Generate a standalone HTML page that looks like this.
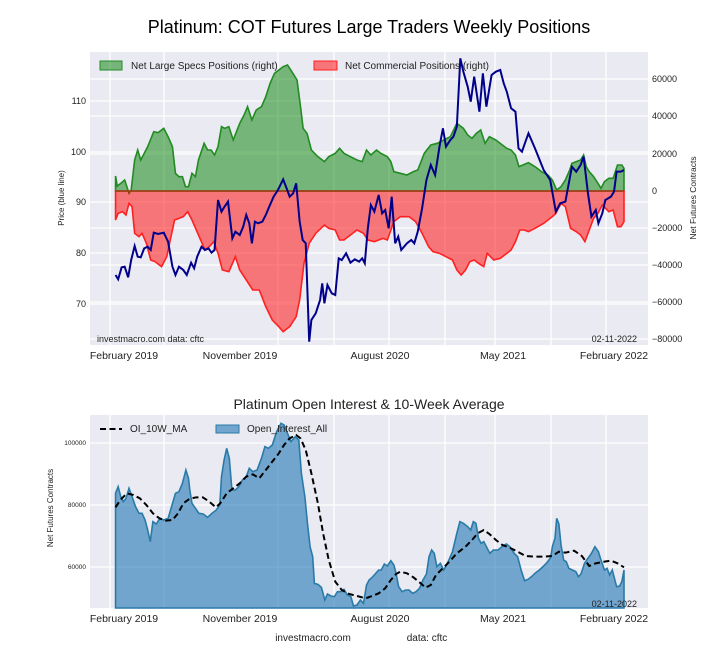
<!DOCTYPE html>
<html><head><meta charset="utf-8"><style>body{margin:0;background:#fff}svg{display:block;font-family:"Liberation Sans",sans-serif}</style></head><body>
<svg width="720" height="660" viewBox="0 0 720 660">
<rect width="720" height="660" fill="#fff"/>
<text x="369" y="33" font-size="18" text-anchor="middle" fill="#000">Platinum: COT Futures Large Traders Weekly Positions</text>
<!-- top plot -->
<rect x="90" y="52" width="558" height="293" fill="#eaeaf2"/>
<g stroke="#fff" stroke-width="1.3">
<line x1="90" x2="648" y1="101" y2="101"/><line x1="90" x2="648" y1="152" y2="152"/><line x1="90" x2="648" y1="202" y2="202"/><line x1="90" x2="648" y1="253" y2="253"/><line x1="90" x2="648" y1="304" y2="304"/>
<line x1="90" x2="648" y1="79" y2="79"/><line x1="90" x2="648" y1="116" y2="116"/><line x1="90" x2="648" y1="154" y2="154"/><line x1="90" x2="648" y1="228" y2="228"/><line x1="90" x2="648" y1="265" y2="265"/><line x1="90" x2="648" y1="302" y2="302"/><line x1="90" x2="648" y1="339" y2="339"/>
<line x1="110" x2="110" y1="52" y2="345"/><line x1="164" x2="164" y1="52" y2="345"/><line x1="278" x2="278" y1="52" y2="345"/><line x1="334" x2="334" y1="52" y2="345"/><line x1="389" x2="389" y1="52" y2="345"/><line x1="445" x2="445" y1="52" y2="345"/><line x1="495" x2="495" y1="52" y2="345"/><line x1="551" x2="551" y1="52" y2="345"/><line x1="606" x2="606" y1="52" y2="345"/>
</g>
<g transform="translate(40,40) scale(0.4342,0.33333)">
<path fill="#008000" fill-opacity="0.5" stroke="#228b22" stroke-width="1.6" vector-effect="non-scaling-stroke" d="M174,453 L174,408 L178,438 L186,430 L195,420 L200,440 L205,460 L210,450 L218,360 L225,330 L232,360 L240,340 L248,320 L262,275 L272,278 L285,265 L295,290 L305,320 L312,400 L320,410 L328,410 L335,440 L342,440 L350,400 L358,410 L365,360 L378,310 L386,330 L394,330 L402,345 L410,320 L418,260 L425,265 L435,260 L445,300 L460,250 L470,225 L478,200 L488,240 L498,210 L510,200 L520,170 L530,130 L540,100 L550,90 L560,80 L570,75 L580,95 L592,120 L600,200 L606,265 L615,280 L625,330 L640,350 L655,365 L665,350 L680,340 L690,325 L700,340 L715,350 L730,360 L742,365 L752,330 L762,345 L775,330 L785,340 L800,350 L808,365 L815,395 L830,400 L845,405 L860,395 L870,390 L885,340 L900,315 L915,310 L930,300 L945,290 L960,250 L975,265 L985,285 L995,295 L1005,280 L1015,270 L1025,310 L1035,290 L1050,300 L1060,310 L1075,325 L1085,330 L1095,345 L1103,380 L1112,375 L1125,368 L1140,380 L1155,395 L1170,405 L1180,420 L1190,450 L1200,440 L1210,420 L1220,390 L1225,370 L1235,365 L1245,360 L1252,345 L1258,380 L1265,395 L1275,410 L1285,430 L1292,445 L1300,425 L1310,415 L1320,415 L1330,375 L1340,375 L1345,385 L1345,453 Z"/>
<path fill="#ff0000" fill-opacity="0.5" stroke="#ff2020" stroke-width="1.6" vector-effect="non-scaling-stroke" d="M174,453 L174,540 L180,520 L190,515 L198,525 L205,490 L212,500 L218,580 L228,590 L235,580 L245,610 L255,660 L265,665 L280,680 L292,650 L300,600 L310,540 L320,535 L330,530 L340,515 L350,540 L360,570 L370,600 L380,630 L390,620 L400,605 L410,640 L420,690 L435,695 L450,650 L460,690 L475,720 L490,750 L505,750 L520,800 L535,840 L550,860 L560,875 L575,860 L590,830 L598,780 L608,670 L620,610 L635,580 L655,555 L665,565 L680,570 L690,600 L700,600 L715,585 L730,570 L745,580 L755,600 L770,605 L790,595 L800,600 L815,545 L830,530 L850,530 L865,545 L880,580 L895,620 L905,635 L920,640 L935,650 L950,660 L960,690 L970,705 L980,690 L990,665 L1000,660 L1010,670 L1022,680 L1030,640 L1045,660 L1060,655 L1075,640 L1085,630 L1095,605 L1105,570 L1115,570 L1125,575 L1140,565 L1160,550 L1180,530 L1188,520 L1200,490 L1210,500 L1222,565 L1235,575 L1245,585 L1255,605 L1265,570 L1275,535 L1285,520 L1295,495 L1310,515 L1320,510 L1330,560 L1338,560 L1345,545 L1345,453 Z"/>
<line x1="174" x2="1345" y1="453" y2="453" stroke="#8b4513" stroke-width="1.2" vector-effect="non-scaling-stroke"/>
<path fill="none" stroke="#00008b" stroke-width="2" vector-effect="non-scaling-stroke" d="M174,705 L180,718 L188,682 L195,680 L203,712 L210,660 L218,618 L225,650 L232,652 L240,625 L248,620 L255,630 L262,578 L272,582 L285,578 L295,605 L305,680 L312,705 L320,680 L330,690 L338,705 L348,668 L355,685 L362,650 L372,620 L380,630 L388,625 L395,638 L402,630 L410,480 L418,515 L425,500 L433,485 L443,595 L450,575 L460,585 L468,560 L475,525 L482,550 L488,610 L495,545 L502,550 L512,545 L520,525 L528,500 L538,470 L548,450 L560,418 L568,445 L575,470 L583,460 L590,430 L598,545 L605,600 L612,610 L620,905 L625,840 L635,820 L645,780 L650,730 L655,790 L662,735 L672,760 L680,765 L688,655 L695,660 L705,640 L715,668 L725,658 L735,665 L742,655 L748,670 L755,565 L762,495 L770,515 L780,465 L788,520 L795,510 L803,565 L810,470 L818,610 L825,590 L832,630 L845,610 L855,600 L862,610 L870,575 L880,505 L890,420 L900,375 L910,405 L920,320 L928,265 L935,320 L945,300 L952,290 L960,260 L968,55 L975,95 L985,140 L992,185 L1000,110 L1008,180 L1012,215 L1020,100 L1028,200 L1040,105 L1050,95 L1060,90 L1068,130 L1075,155 L1085,205 L1095,215 L1102,325 L1110,335 L1118,305 L1125,280 L1140,325 L1160,390 L1175,420 L1188,515 L1198,490 L1210,485 L1215,450 L1225,380 L1235,395 L1245,375 L1252,350 L1262,460 L1270,530 L1280,510 L1286,550 L1295,520 L1302,480 L1315,470 L1322,455 L1328,395 L1338,395 L1345,390"/>
</g>
<rect x="100" y="61" width="22" height="9" fill="#008000" fill-opacity="0.5" stroke="#228b22"/>
<text x="131" y="69" font-size="10" fill="#222">Net Large Specs Positions (right)</text>
<rect x="314" y="61" width="23" height="9" fill="#ff0000" fill-opacity="0.5" stroke="#ff2020"/>
<text x="345" y="69" font-size="10" fill="#222">Net Commercial Positions (right)</text>
<text x="97" y="342" font-size="9" fill="#222">investmacro.com   data: cftc</text>
<text x="637" y="342" font-size="9" fill="#222" text-anchor="end">02-11-2022</text>
<g font-size="9" fill="#222" text-anchor="end">
<text x="86" y="104">110</text><text x="86" y="155">100</text><text x="86" y="205">90</text><text x="86" y="256">80</text><text x="86" y="307">70</text>
</g>
<g font-size="9" fill="#222">
<text x="652" y="82">60000</text><text x="652" y="119">40000</text><text x="652" y="157">20000</text><text x="652" y="194">0</text><text x="652" y="231">−20000</text><text x="652" y="268">−40000</text><text x="652" y="305">−60000</text><text x="652" y="342">−80000</text>
</g>
<text transform="translate(64,198) rotate(-90)" font-size="8" fill="#222" text-anchor="middle">Price (blue line)</text>
<text transform="translate(696,198) rotate(-90)" font-size="8.5" fill="#222" text-anchor="middle">Net Futures Contracts</text>
<g font-size="10.5" fill="#222" text-anchor="middle">
<text x="124" y="359">February 2019</text><text x="240" y="359">November 2019</text><text x="380" y="359">August 2020</text><text x="503" y="359">May 2021</text><text x="614" y="359">February 2022</text>
</g>
<!-- bottom plot -->
<text x="369" y="409" font-size="14" text-anchor="middle" fill="#222">Platinum Open Interest &amp; 10-Week Average</text>
<rect x="90" y="415" width="558" height="193" fill="#eaeaf2"/>
<g stroke="#fff" stroke-width="1.3">
<line x1="90" x2="648" y1="443" y2="443"/><line x1="90" x2="648" y1="505" y2="505"/><line x1="90" x2="648" y1="567" y2="567"/>
<line x1="110" x2="110" y1="415" y2="608"/><line x1="164" x2="164" y1="415" y2="608"/><line x1="278" x2="278" y1="415" y2="608"/><line x1="334" x2="334" y1="415" y2="608"/><line x1="389" x2="389" y1="415" y2="608"/><line x1="445" x2="445" y1="415" y2="608"/><line x1="495" x2="495" y1="415" y2="608"/><line x1="551" x2="551" y1="415" y2="608"/><line x1="606" x2="606" y1="415" y2="608"/>
</g>
<g transform="translate(40,390) scale(0.4342,0.33333)">
<path fill="#1f77b4" fill-opacity="0.6" stroke="#2a7aa8" stroke-width="1.6" vector-effect="non-scaling-stroke" d="M174,654 L174,310 L180,290 L186,320 L192,335 L198,325 L205,295 L212,320 L220,350 L228,370 L235,370 L242,390 L248,420 L254,455 L260,395 L268,402 L276,385 L285,390 L295,385 L303,350 L312,310 L320,305 L328,280 L336,240 L342,265 L345,300 L350,340 L358,355 L366,370 L376,372 L386,382 L396,370 L406,360 L414,345 L418,260 L424,210 L430,175 L436,205 L442,300 L450,300 L458,290 L466,270 L475,260 L482,235 L490,245 L500,240 L510,205 L518,170 L526,175 L535,165 L545,125 L555,100 L562,105 L570,130 L578,155 L588,140 L596,150 L602,250 L610,320 L616,400 L622,470 L628,500 L632,580 L640,583 L648,592 L656,630 L662,612 L670,618 L678,620 L685,605 L693,605 L700,598 L708,615 L716,620 L722,648 L730,645 L738,630 L745,640 L752,585 L758,570 L765,562 L772,552 L780,540 L786,540 L793,522 L800,528 L808,512 L815,525 L820,550 L826,590 L834,605 L842,600 L850,600 L858,610 L866,605 L874,595 L882,570 L890,552 L896,500 L902,480 L908,490 L914,530 L922,520 L930,540 L940,515 L950,485 L960,430 L967,395 L975,400 L985,410 L992,420 L998,395 L1004,400 L1010,445 L1016,460 L1022,455 L1028,470 L1036,490 L1044,480 L1055,480 L1064,470 L1074,462 L1082,470 L1092,490 L1100,500 L1108,540 L1116,572 L1124,568 L1132,560 L1140,550 L1150,540 L1160,528 L1168,517 L1176,503 L1180,470 L1186,445 L1190,385 L1195,402 L1200,465 L1206,510 L1212,515 L1218,535 L1226,540 L1234,545 L1240,560 L1246,552 L1254,520 L1262,505 L1270,490 L1278,470 L1286,485 L1292,510 L1300,540 L1306,535 L1312,555 L1318,540 L1322,560 L1328,590 L1335,588 L1340,575 L1345,540 L1345,654 Z"/>
<path fill="none" stroke="#000" stroke-width="2" stroke-dasharray="6,3.5" vector-effect="non-scaling-stroke" d="M174,352 L185,330 L200,310 L215,315 L230,325 L245,345 L260,370 L275,385 L290,392 L305,390 L318,370 L330,340 L345,326 L360,322 L375,322 L390,335 L405,352 L415,340 L430,310 L445,295 L460,280 L475,260 L490,253 L505,265 L520,240 L535,215 L550,190 L562,165 L575,145 L590,135 L600,145 L612,180 L625,250 L640,340 L652,430 L665,510 L680,575 L695,600 L712,612 L730,618 L750,625 L765,618 L780,610 L795,595 L808,570 L820,552 L830,545 L845,550 L860,562 L875,578 L888,593 L900,585 L912,555 L930,532 L945,512 L960,490 L980,470 L995,450 L1008,430 L1022,420 L1035,432 L1050,450 L1065,465 L1080,472 L1100,485 L1118,498 L1140,500 L1160,500 L1180,498 L1195,485 L1210,488 L1230,482 L1248,498 L1265,528 L1280,520 L1300,515 L1315,512 L1330,520 L1345,532"/>
</g>
<line x1="100" x2="122" y1="429" y2="429" stroke="#000" stroke-width="2" stroke-dasharray="6,3.5"/>
<text x="130" y="432" font-size="10" fill="#222">OI_10W_MA</text>
<rect x="216" y="425" width="23" height="8" fill="#1f77b4" fill-opacity="0.6" stroke="#2a7aa8"/>
<text x="247" y="432" font-size="10" fill="#222">Open_Interest_All</text>
<text x="637" y="607" font-size="9" fill="#222" text-anchor="end">02-11-2022</text>
<g font-size="6.5" fill="#222" text-anchor="end">
<text x="86" y="445">100000</text><text x="86" y="507">80000</text><text x="86" y="569">60000</text>
</g>
<text transform="translate(53,508) rotate(-90)" font-size="8" fill="#222" text-anchor="middle">Net Futures Contracts</text>
<g font-size="10.5" fill="#222" text-anchor="middle">
<text x="124" y="622">February 2019</text><text x="240" y="622">November 2019</text><text x="380" y="622">August 2020</text><text x="503" y="622">May 2021</text><text x="614" y="622">February 2022</text>
</g>
<text x="313" y="641" font-size="10" fill="#222" text-anchor="middle">investmacro.com</text>
<text x="427" y="641" font-size="10" fill="#222" text-anchor="middle">data: cftc</text>
</svg>
</body></html>
